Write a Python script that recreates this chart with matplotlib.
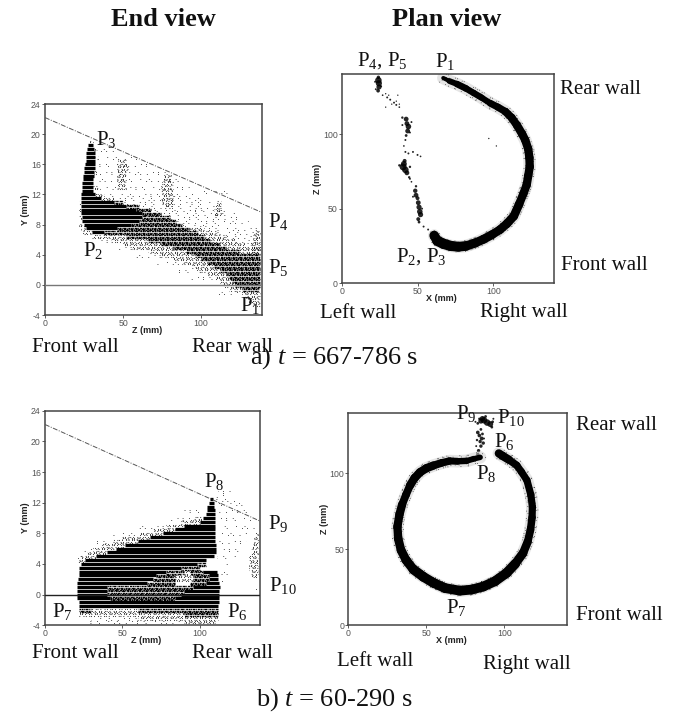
import matplotlib
matplotlib.use("Agg")
import matplotlib.pyplot as plt
from matplotlib import rcParams

rcParams['font.family'] = ['Liberation Serif', 'DejaVu Sans']
rcParams['mathtext.fontset'] = 'custom'
rcParams['mathtext.rm'] = 'Liberation Serif'
rcParams['mathtext.it'] = 'Liberation Serif:italic'
rcParams['axes.unicode_minus'] = False

W, H = 677, 713

# --- end views: rows of particle traces [y, z_from, z_to] ---
a_dark = [[18.5,27.5,30.5],[18,27,31.5],[17.5,26.5,32],[17,26,32],[16.5,26,32],[16,25.5,32],[15.5,25,32],[15,25,31.5],
          [14.5,24.5,31.5],[14,24.5,31],[13.5,24,31],[13,23.5,31],[12.5,23.5,31],[12,23,32],[11.5,23,36],[11,23,44],
          [10.5,23,52],[10,23,58],[9.5,23,62],[9,23.5,62],[8.5,24,60],[8,25,55],[7.5,26,46],[7,30,38]]
a_mid = [[11,44,50],[10.5,52,60],[10,58,68],[9.5,62,74],[9,62,80],[8.5,60,84],[8,55,88],[7.5,46,92],[7,38,98],
         [6.5,52,102],[6,66,106],[5.5,74,112],[5,82,116],[4.5,90,124],[4,96,138],[3.5,100,138],[3,104,138],[2.5,108,138],
         [2,112,138],[1.5,116,138],[1,118,138],[0.5,120,138],[0,122,138],[-0.5,126,137]]
a_light = [[-2.5,132,138],[-2,130,138],[-1.5,128,138],[-1,126,138],[-0.5,118,126],[0,114,122],[0.5,112,120],[1,108,118],
           [1.5,104,116],[2,98,112],[2.5,94,108],[3,88,104],[3.5,82,100],[4,74,96],[4.5,66,90],[5,56,82],[5.5,50,74],
           [6,42,66],[6.5,30,52],[7,24,30],[7,38,44],[7.5,23,26],[8,22,25],[9,22,23.5],[10,21.5,23],[11,22,23],
           [13,46,52],[13.5,46,52],[14,46,52],[14.5,46,52],[15,46,52],[15.5,46,53],[16,46,53],[16.5,47,52],
           [10.5,76,81],[11,75,82],[11.5,74,82],[12,74,82],[12.5,74,82],[13,74,82],[13.5,75,82],[14,75,81],[14.5,76,81],
           [9.5,108,113],[10,108,113],[10.5,109,113],[11,110,113],[7.5,92,102],[7,98,110],[6.5,102,116],[6,106,122],[5.5,112,128],[5,116,138],[4.5,124,138],
           [4.5,132,138],[5,132,138],[5.5,131,138],[6,133,138],[6.5,133,138],[7,134,138],
           [19,28,31],[18,31.5,33],[17,32,34],[15,31.5,34],[13,31,35],[12,32,38],[11.5,36,44]]
a_sparse = [[-3,134,138],[-1,110,126],[1,92,108],[2,84,98],[3,72,88],[4,56,74],[5,44,56],[6,36,42],[8,88,112],[8.5,84,130],[9,80,125],
            [9.5,74,122],[10,68,118],[10.5,60,112],[11,50,108],[11.5,44,100],[12,38,95],[13,35,92],[14,34,90],[15,34,82],
            [16,33,68],[17,34,60],[18,33,44],[19,31,36],[7.5,102,138],[7,110,138],[6.5,116,138],[6,122,138],[5.5,128,138],[12.5,100,118]]

b_dark = [[12.5,106.5,108.5],[12,106,109],[11.5,105,109.5],[11,104.5,110],[10.5,104,110],[10,102,110],[9.5,100,110],[9,90,110],
          [8.5,84,110],[8,76,110],[7.5,68,110],[7,60,110],[6.5,52,110.5],[6,46,110.5],[5.5,40,110.5],[5,33,109],[4.5,26,104],
          [4,23,98],[3.5,22,88],[3,22,78],[3,102,111],[2.5,22,72],[2.5,106,112],[2,21.5,70],[2,106,112],[1.5,21,66],[1.5,104,112.5],
          [1,21,40],[1,96,113],[0.5,21,40],[0.5,90,112.5],[0,21,40],[0,88,112.5],[-0.5,21,42],[-0.5,84,112.5],[-1,22,112.5],[-1.5,22,112]]
b_mid = [[4,98,104],[3.5,88,100],[3,78,90],[2.5,72,84],[2,70,84],[1.5,66,84],[1.5,94,104],[1,40,96],
         [0.5,40,90],[0,40,88],[-0.5,42,84],[2,96,106],[2.5,96,106],[3,94,102],[-2,22,30],[-2,60,112],[-2.5,90,112]]
b_light = [[4.5,21,26],[5,23,33],[5.5,27,40],[6,31,46],[6.5,36,52],[7,44,60],[7.5,50,68],[8,60,76],[8.5,70,84],[9,78,90],[9.5,88,100],[10,96,102],
           [-2,30,60],[-2.5,22,90],[-3,60,112],[-3.5,90,110],[2,84,96],[2.5,84,96],[3,90,94],
           [2.5,133,137],[3,133,138],[3.5,132,138],[4,132,138],[4.5,132,138],[5,132,138],[5.5,133,138],[6,133,138],[6.5,134,138],[7,135,138],[7.5,135,138],[8,136,138]]
b_sparse = [[3,20,22],[5,20,23],[6,24,31],[7,32,44],[8,44,60],[9,58,78],[10,78,96],[11,90,104],[12,112,128],[12.5,110,124],
            [11,112,132],[10,112,134],[9,114,136],[8,112,132],[7,112,130],[6,112,128],[5,111,124],[4,113,120],[3,113,118],[2,113,116],
            [-3.5,28,88],[-3,30,60],[1,134,138],[13,108,116],[13.5,112,120]]

# --- plan views: main wall trace [x, z, width in points] ---
a_ring = [[67,137.5,3.0],[71,135.5,4.2],[76,133.5,4.8],[82,130.5,4.6],[87,127.5,4.6],[92,124.5,4.4],[98,120.6,5],[103,118,5.2],[108,115,5.6],
          [112,111,5.8],[115.5,106,6],[119,100,6],[121,96,6],[123,90,6],[123.8,84,6],[124,78,6],[123,72,6],[122,66,6],[119.8,60,6],
          [117,53,6.2],[113.5,45,6.2],[109,40,6.2],[104.5,36,6.2],[99,32.5,6.4],[93.5,29.5,6.4],[88,27,6.6],[82,25,7],[77,24.5,7.2],
          [72,25,7.4],[67,26.5,7.4],[63,28.5,7],[61,32,5]]
b_ring = [[84.5,110.6,4],[80,109.5,4.2],[76,108.3,4.6],[70,108,5],[65,108.2,5.4],[60,107,5.6],[54.5,105.2,6],[50,103.4,6],[46,100.8,6],
          [42.5,97,6],[39.5,92,5.6],[37,86,5.6],[34.5,79.5,6],[32.8,73,6],[31.5,65,6],[32,57,6.2],[33.8,49.5,6.4],[37,43,6.6],[41.7,36.8,7],
          [48,32,7],[54.5,28,7],[62,24.5,7],[71.5,22.8,7],[79,23.5,7],[86.5,25.5,7],[94,29,7],[101.5,34.5,7],[107,40.5,6.4],
          [112,47.5,6],[115,55,5.6],[116.8,63,5.4],[117.8,71,5.2],[118,78,5.2],[117,86,5.2],[114.5,95.5,5.2],[111,101,5.2],
          [108,105.3,5.4],[103,109,6],[99,111.5,6],[96.5,113.2,5.6]]

# --- plan views: sparse clusters [x, z, marker size] ---
a_clusters = [[24.2,138,6],[24.2,136,22],[24.5,134,20],[24.6,131.5,14],[24,129,7],[22.5,130,2],[26,132,2],[22,135,2],[27,126,1.5],[30,124.5,2],[32,123,2],[34.5,121,2],[36,119.5,2],[38,118,1.5],
              [29,127,1],[33,120,1],[31,126,1],[36,122,1],[38,120,1],
              [40,111,3],[42.5,110,12],[43,107,12],[44,105,16],[43.5,102,12],[42.5,99,4],[40,106,2],[46,108,2],[45,101,2],[42,96,2],[41,92,1.5],[42,88,2],[44,87,2],[47,88,2],[50,86,2],[52,85,1.5],
              [41.5,82,8],[41,80,18],[40.5,78,26],[42,76,22],[43,74,12],[44.5,71,3],[38,79,3],[45,78,3],[46,68,1.5],[49,65,3],[48.5,62,10],[49,59,12],[50,57,8],[50.5,54,12],[51,51,14],[51.5,48,16],
              [52,46,14],[50.5,43,8],[51,41,4],[47,58,2],[53,50,2],[54,38,2],[57,36,2],[60,34,2],[45,70,2],[37,126,1],[29,118,1],[97,97,1],[102,92,1]]
b_clusters = [[86,136,16],[85,134.5,14],[87,135,22],[89,133.5,22],[91,132.5,18],[92.5,134,4],[83,133,4],[88,137.5,4],[92,130.5,4],[84,136,3],[93,136,2],[81.5,134,2],
              [85,129,4],[83,127,7],[84,125,7],[85.5,123,8],[84.5,121,6],[86.5,120,6],[85,118,6],[83.5,115,6],[83,112.5,6],[86,126,4],[82.5,122,3],[87,123,2],[82,118,2]]

# --- reference lines and ticks ---
slope_z = [0, 139]
slope_y = [22.2, 9.6]
end_yticks = [-4, 0, 4, 8, 12, 16, 20, 24]
xticks = [0, 50, 100]

# stipple styles: (dash pattern, sub-rows per 0.5 mm row, line width)
MID = ((1.3, .35, .7, .5, 2.2, .4, .6, .7, 1.6, .45), 3, 0.95)
LIGHT = ((.7, 1.5, .7, 2.7, .7, 1.0, .7, 2.1, .7, 3.3), 3, 0.75)
SPARSE = ((.7, 6, .7, 11, .7, 8, .7, 15, .7, 4.5), 2, 0.7)


def make_axes(px0, py0, px1, py1, xlim, ylim, xlabel, ylabel, yticks):
    ax = fig.add_axes([px0 / W, 1 - py1 / H, (px1 - px0) / W, (py1 - py0) / H])
    ax.set_xlim(*xlim)
    ax.set_ylim(*ylim)
    ax.set_xticks(xticks)
    ax.set_yticks(yticks)
    ax.tick_params(length=2, width=0.6, pad=1, labelsize=6.3, labelcolor='#555555', color='#444444')
    for lab in ax.get_xticklabels() + ax.get_yticklabels():
        lab.set_family('Liberation Sans')
    ax.set_xlabel(xlabel, fontsize=6.5, family='Liberation Sans', labelpad=-1.5, fontweight='bold', color='#222222', x=0.47)
    ax.set_ylabel(ylabel, fontsize=6.5, family='Liberation Sans', labelpad=0.5, fontweight='bold', color='#222222')
    for s in ax.spines.values():
        s.set_linewidth(1.1)
        s.set_color('#444444')
    return ax


def solid_rows(ax, table):
    for y, z0, z1 in table:
        ax.plot([z0, z1], [y, y], color='black', lw=2.35, solid_capstyle='butt')


def stipple_rows(ax, table, style):
    pattern, sub, lw = style
    period = sum(pattern)
    n = 0
    for y, z0, z1 in table:
        for k in range(sub):
            n += 1
            ax.plot([z0, z1], [y - 0.25 + k * 0.5 / sub] * 2, color='black', lw=lw,
                    ls=((n * 0.618 * period) % period, pattern), dash_capstyle='butt')


def end_view(ax, dark, mid, light, sparse, zero_color):
    ax.plot(slope_z, slope_y, color='#555555', lw=0.7, ls=(0, (5, 1.5, 1, 1.5)), zorder=5)
    stipple_rows(ax, sparse, SPARSE)
    stipple_rows(ax, light, LIGHT)
    stipple_rows(ax, mid, MID)
    solid_rows(ax, dark)
    ax.axhline(0, color=zero_color, lw=1.0, zorder=6)


def plan_view(ax, ring, clusters):
    xs = [p[0] for p in ring]
    zs = [p[1] for p in ring]
    ax.plot(xs, zs, color='#cccccc', lw=9, alpha=0.5, solid_capstyle='round')
    for n, (dx, dz) in enumerate([(3.6, 0), (-3.6, 0), (0, 3.6), (0, -3.6), (2.6, 2.6), (-2.6, -2.6), (2.6, -2.6), (-2.6, 2.6)]):
        ax.plot([x + dx for x in xs], [z + dz for z in zs], color='black', lw=0.6,
                ls=(n * 1.3, SPARSE[0]), dash_capstyle='butt')
    for i in range(len(ring) - 1):
        ax.plot(xs[i:i + 2], zs[i:i + 2], color='black', lw=ring[i][2], solid_capstyle='round')
    ax.scatter([c[0] for c in clusters], [c[1] for c in clusters], s=[c[2] for c in clusters],
               color='black', linewidths=0, alpha=0.85)


def label(px, py, s, size=15, **kw):
    fig.text(px / W, 1 - py / H, s, fontsize=size, ha='left', va='center', color='#111111', **kw)


fig = plt.figure(figsize=(W / 100, H / 100), dpi=100, facecolor='white')

ax1 = make_axes(45, 104, 262, 315, (0, 139), (-4, 24), 'Z (mm)', 'Y (mm)', end_yticks)
end_view(ax1, a_dark, a_mid, a_light, a_sparse, '#777777')
ax2 = make_axes(341.7, 74.3, 554, 283.3, (0, 140), (0, 140), 'X (mm)', 'Z (mm)', [0, 50, 100])
plan_view(ax2, a_ring, a_clusters)
ax3 = make_axes(45, 410.7, 260, 625.3, (0, 139), (-4, 24), 'Z (mm)', 'Y (mm)', end_yticks)
end_view(ax3, b_dark, b_mid, b_light, b_sparse, '#222222')
ax4 = make_axes(348.3, 412.7, 566.7, 625.3, (0, 140), (0, 140), 'X (mm)', 'Z (mm)', [0, 50, 100])
plan_view(ax4, b_ring, b_clusters)

label(111, 19, 'End view', size=19, fontweight='bold')
label(392, 19, 'Plan view', size=19, fontweight='bold')

for px, py, s in [(357, 61, 'P$_4$, P$_5$'), (435, 61, 'P$_1$'), (560, 89, 'Rear wall'), (561, 265, 'Front wall'),
                  (396, 257, 'P$_2$, P$_3$'), (320, 313, 'Left wall'), (480, 313, 'Right wall'),
                  (96, 140, 'P$_3$'), (83, 250, 'P$_2$'), (268, 222, 'P$_4$'), (268, 267, 'P$_5$'), (240, 305, 'P$_1$'),
                  (32, 347, 'Front wall'), (192, 347, 'Rear wall'),
                  (204, 482, 'P$_8$'), (268, 524, 'P$_9$'), (269, 585, 'P$_{10}$'), (52, 612, 'P$_7$'), (227, 612, 'P$_6$'),
                  (32, 654, 'Front wall'), (192, 654, 'Rear wall'),
                  (456, 414, 'P$_9$'), (497, 418, 'P$_{10}$'), (494, 441, 'P$_6$'), (476, 473, 'P$_8$'), (446, 607, 'P$_7$'),
                  (576, 425, 'Rear wall'), (576, 615, 'Front wall'), (337, 661, 'Left wall'), (483, 664, 'Right wall')]:
    label(px, py, s)

label(250, 358, 'a) $\\mathit{t}$ = 667-786 s', size=19)
label(256, 700, 'b) $\\mathit{t}$ = 60-290 s', size=19)

fig.savefig('out.png', dpi=100, facecolor='white')
